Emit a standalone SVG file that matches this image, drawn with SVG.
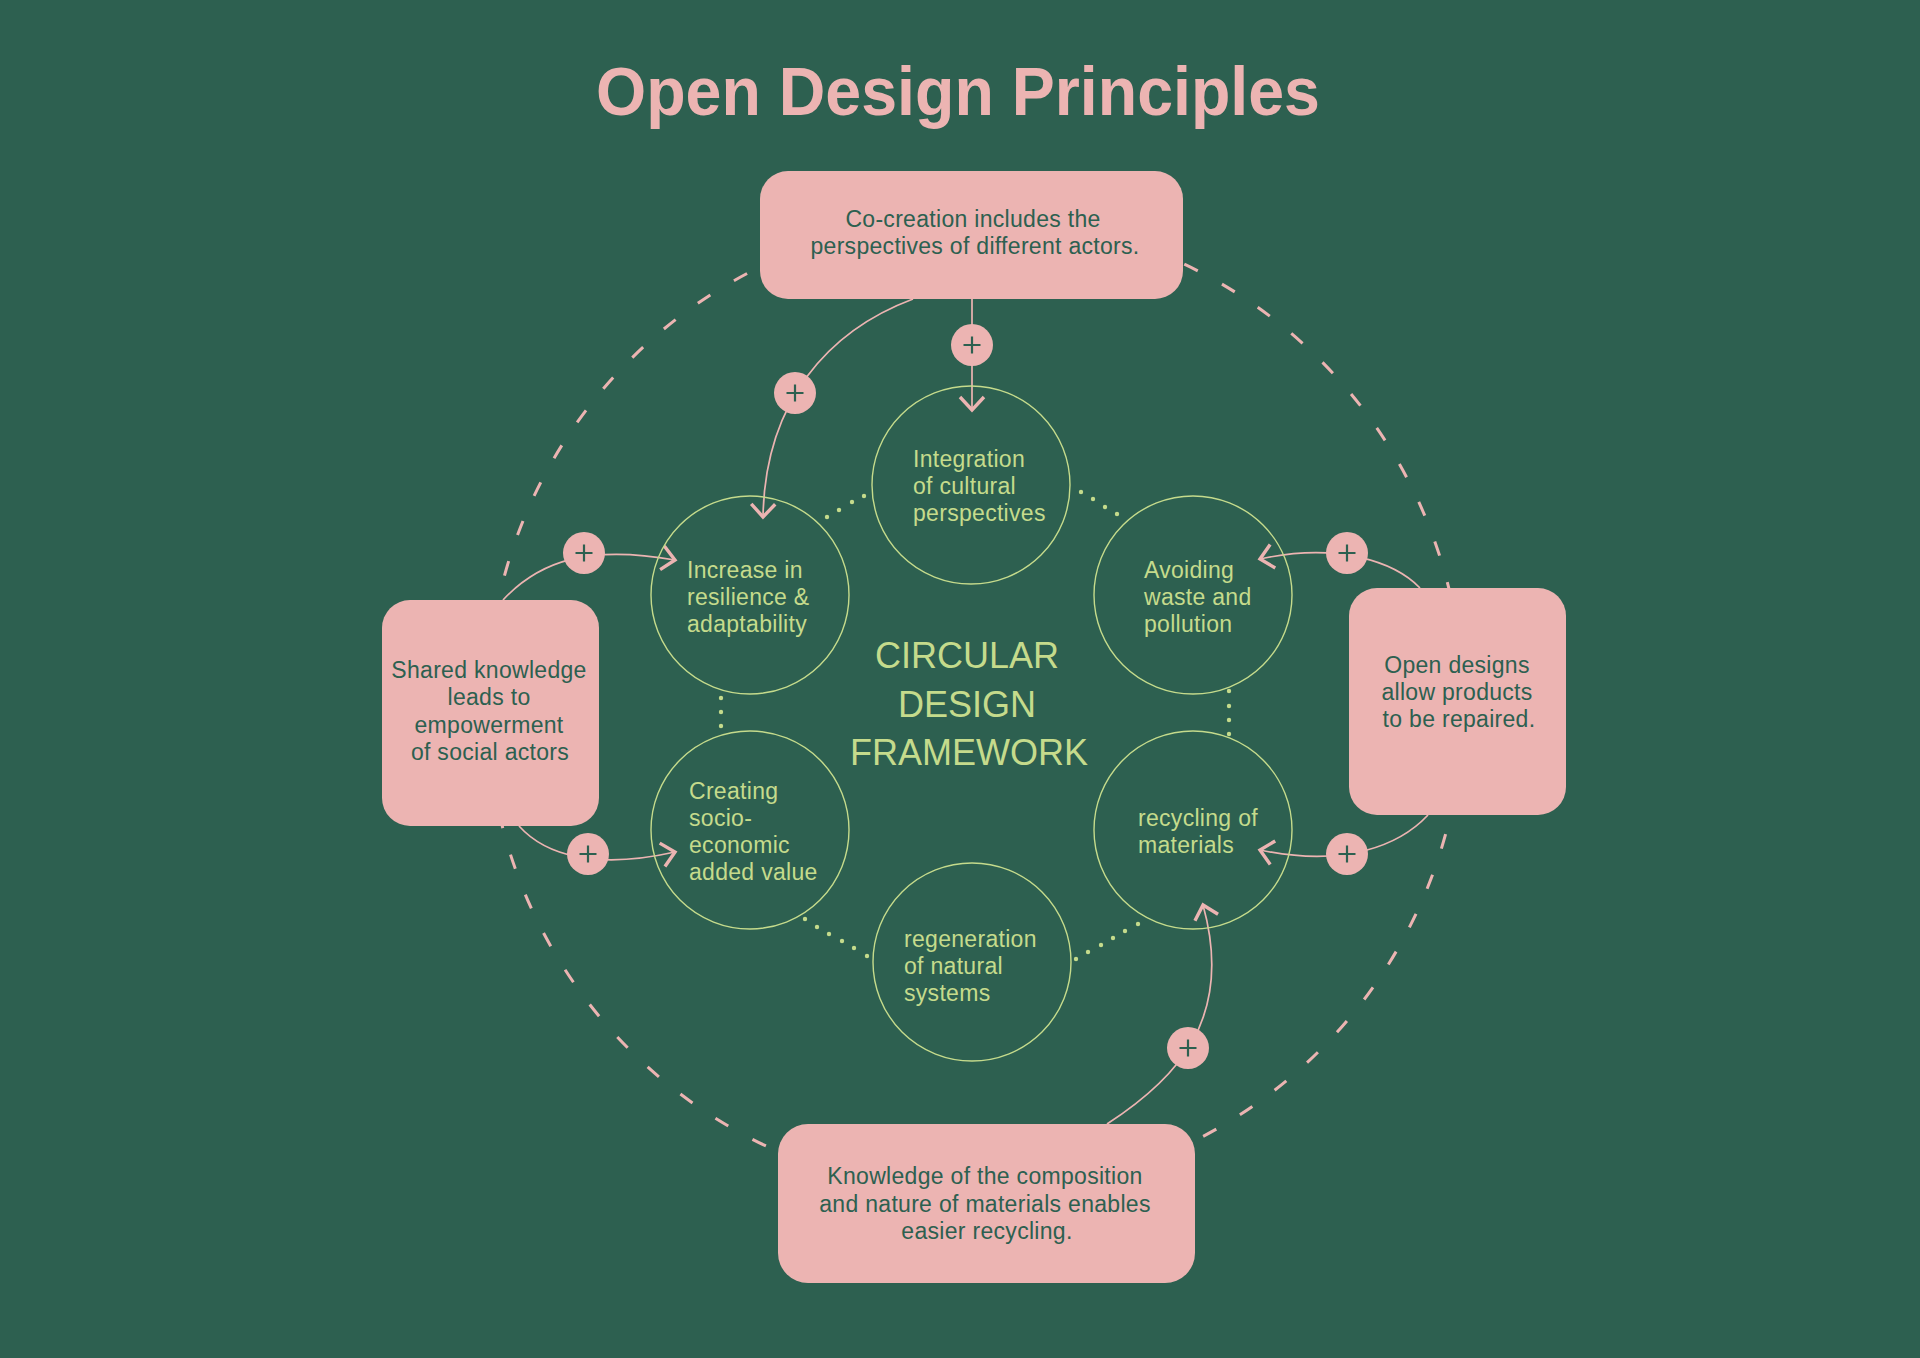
<svg xmlns="http://www.w3.org/2000/svg" width="1920" height="1358" viewBox="0 0 1920 1358">
  <defs>
    <style>
      .bg { fill: #2d6050; }
      .title { font-family: "Liberation Sans", Arial, sans-serif; font-weight: bold; font-size: 68px; fill: #ecb4b2; }
      .ring { fill: none; stroke: #ecb4b2; stroke-width: 3; stroke-dasharray: 15 27.587; stroke-dashoffset: -3; }
      .box { fill: #ecb4b2; }
      .boxtext { font-family: "Liberation Sans", Arial, sans-serif; font-size: 23px; letter-spacing: 0.3px; fill: #2d6050; text-anchor: middle; }
      .node { fill: none; stroke: #c5db8c; stroke-width: 1.4; }
      .nodetext { font-family: "Liberation Sans", Arial, sans-serif; font-size: 23px; letter-spacing: 0.3px; fill: #c5db8c; }
      .center { font-family: "Liberation Sans", Arial, sans-serif; font-size: 36px; fill: #c5db8c; text-anchor: middle; }
      .link { fill: none; stroke: #ecb4b2; stroke-width: 1.7; marker-end: url(#chev); }
      .dot { fill: #c5db8c; }
      .badge { fill: #ecb4b2; }
      .plus { stroke: #2d6050; stroke-width: 2.2; fill: none; }
    </style>
    <marker id="chev" markerUnits="userSpaceOnUse" markerWidth="34" markerHeight="34" viewBox="-17 -17 34 34" refX="0" refY="0" orient="auto" overflow="visible">
      <path d="M -13 -12 L 0 0 L -13 12" fill="none" stroke="#ecb4b2" stroke-width="3.4"/>
    </marker>
    <g id="plusbadge">
      <circle class="badge" cx="0" cy="0" r="21"/>
      <path class="plus" d="M -8.5 0 H 8.5 M 0 -8.5 V 8.5"/>
    </g>
  </defs>

  <rect class="bg" x="0" y="0" width="1920" height="1358"/>

  <text class="title" x="596" y="115" textLength="724" lengthAdjust="spacingAndGlyphs">Open Design Principles</text>

  <circle id="outer-ring" class="ring" cx="975" cy="705" r="488"/>

  <g id="connectors">
    <path class="link" d="M 972 299 L 972 410"/>
    <path class="link" d="M 913 299 C 830 330 765 400 763 517"/>
    <path class="link" d="M 503 600 C 540 560 590 545 675 560"/>
    <path class="link" d="M 519 826 C 545 855 595 870 675 852"/>
    <path class="link" d="M 1420 588 C 1395 562 1338 542 1260 559"/>
    <path class="link" d="M 1428 815 C 1400 845 1345 868 1260 850"/>
    <path class="link" d="M 1107 1124 C 1175 1080 1235 1020 1203 905"/>

    <g id="dots">
      <circle class="dot" cx="827" cy="517" r="2.2"/>
      <circle class="dot" cx="839" cy="510" r="2.2"/>
      <circle class="dot" cx="852" cy="502" r="2.2"/>
      <circle class="dot" cx="864" cy="496" r="2.2"/>

      <circle class="dot" cx="1081" cy="492" r="2.2"/>
      <circle class="dot" cx="1093" cy="499" r="2.2"/>
      <circle class="dot" cx="1105" cy="507" r="2.2"/>
      <circle class="dot" cx="1117" cy="514" r="2.2"/>

      <circle class="dot" cx="721" cy="698" r="2.2"/>
      <circle class="dot" cx="721" cy="712" r="2.2"/>
      <circle class="dot" cx="721" cy="726" r="2.2"/>

      <circle class="dot" cx="1229" cy="691" r="2.2"/>
      <circle class="dot" cx="1229" cy="706" r="2.2"/>
      <circle class="dot" cx="1229" cy="720" r="2.2"/>
      <circle class="dot" cx="1229" cy="734" r="2.2"/>

      <circle class="dot" cx="805" cy="919" r="2.2"/>
      <circle class="dot" cx="817" cy="927" r="2.2"/>
      <circle class="dot" cx="829" cy="934" r="2.2"/>
      <circle class="dot" cx="842" cy="941" r="2.2"/>
      <circle class="dot" cx="854" cy="948" r="2.2"/>
      <circle class="dot" cx="867" cy="956" r="2.2"/>

      <circle class="dot" cx="1076" cy="959" r="2.2"/>
      <circle class="dot" cx="1088" cy="952" r="2.2"/>
      <circle class="dot" cx="1101" cy="945" r="2.2"/>
      <circle class="dot" cx="1113" cy="938" r="2.2"/>
      <circle class="dot" cx="1125" cy="931" r="2.2"/>
      <circle class="dot" cx="1138" cy="924" r="2.2"/>
    </g>

    <use href="#plusbadge" x="972" y="345"/>
    <use href="#plusbadge" x="795" y="393"/>
    <use href="#plusbadge" x="584" y="553"/>
    <use href="#plusbadge" x="588" y="854"/>
    <use href="#plusbadge" x="1347" y="553"/>
    <use href="#plusbadge" x="1347" y="854"/>
    <use href="#plusbadge" x="1188" y="1048"/>
  </g>

  <g id="box-cocreation">
    <rect class="box" x="760" y="171" width="423" height="128" rx="28"/>
    <text class="boxtext"><tspan x="973" y="227">Co-creation includes the</tspan><tspan x="975" y="254">perspectives of different actors.</tspan></text>
  </g>

  <g id="box-shared-knowledge">
    <rect class="box" x="382" y="600" width="217" height="226" rx="28"/>
    <text class="boxtext"><tspan x="489" y="678">Shared knowledge</tspan><tspan x="489" y="705">leads to</tspan><tspan x="489" y="733">empowerment</tspan><tspan x="490" y="760">of social actors</tspan></text>
  </g>

  <g id="box-open-designs">
    <rect class="box" x="1349" y="588" width="217" height="227" rx="28"/>
    <text class="boxtext"><tspan x="1457" y="673">Open designs</tspan><tspan x="1457" y="700">allow products</tspan><tspan x="1459" y="727">to be repaired.</tspan></text>
  </g>

  <g id="box-knowledge-materials">
    <rect class="box" x="778" y="1124" width="417" height="159" rx="30"/>
    <text class="boxtext"><tspan x="985" y="1184">Knowledge of the composition</tspan><tspan x="985" y="1212">and nature of materials enables</tspan><tspan x="987" y="1239">easier recycling.</tspan></text>
  </g>

  <g id="node-integration">
    <circle class="node" cx="971" cy="485" r="99"/>
    <text class="nodetext"><tspan x="913" y="467">Integration</tspan><tspan x="913" y="494">of cultural</tspan><tspan x="913" y="521">perspectives</tspan></text>
  </g>

  <g id="node-resilience">
    <circle class="node" cx="750" cy="595" r="99"/>
    <text class="nodetext"><tspan x="687" y="578">Increase in</tspan><tspan x="687" y="605">resilience &amp;</tspan><tspan x="687" y="632">adaptability</tspan></text>
  </g>

  <g id="node-avoiding-waste">
    <circle class="node" cx="1193" cy="595" r="99"/>
    <text class="nodetext"><tspan x="1144" y="578">Avoiding</tspan><tspan x="1144" y="605">waste and</tspan><tspan x="1144" y="632">pollution</tspan></text>
  </g>

  <g id="node-socio-economic">
    <circle class="node" cx="750" cy="830" r="99"/>
    <text class="nodetext"><tspan x="689" y="799">Creating</tspan><tspan x="689" y="826">socio-</tspan><tspan x="689" y="853">economic</tspan><tspan x="689" y="880">added value</tspan></text>
  </g>

  <g id="node-recycling">
    <circle class="node" cx="1193" cy="830" r="99"/>
    <text class="nodetext"><tspan x="1138" y="826">recycling of</tspan><tspan x="1138" y="853">materials</tspan></text>
  </g>

  <g id="node-regeneration">
    <circle class="node" cx="972" cy="962" r="99"/>
    <text class="nodetext"><tspan x="904" y="947">regeneration</tspan><tspan x="904" y="974">of natural</tspan><tspan x="904" y="1001">systems</tspan></text>
  </g>

  <g id="center-label">
    <text class="center"><tspan x="967" y="668">CIRCULAR</tspan><tspan x="967" y="717">DESIGN</tspan><tspan x="969" y="765">FRAMEWORK</tspan></text>
  </g>
</svg>
